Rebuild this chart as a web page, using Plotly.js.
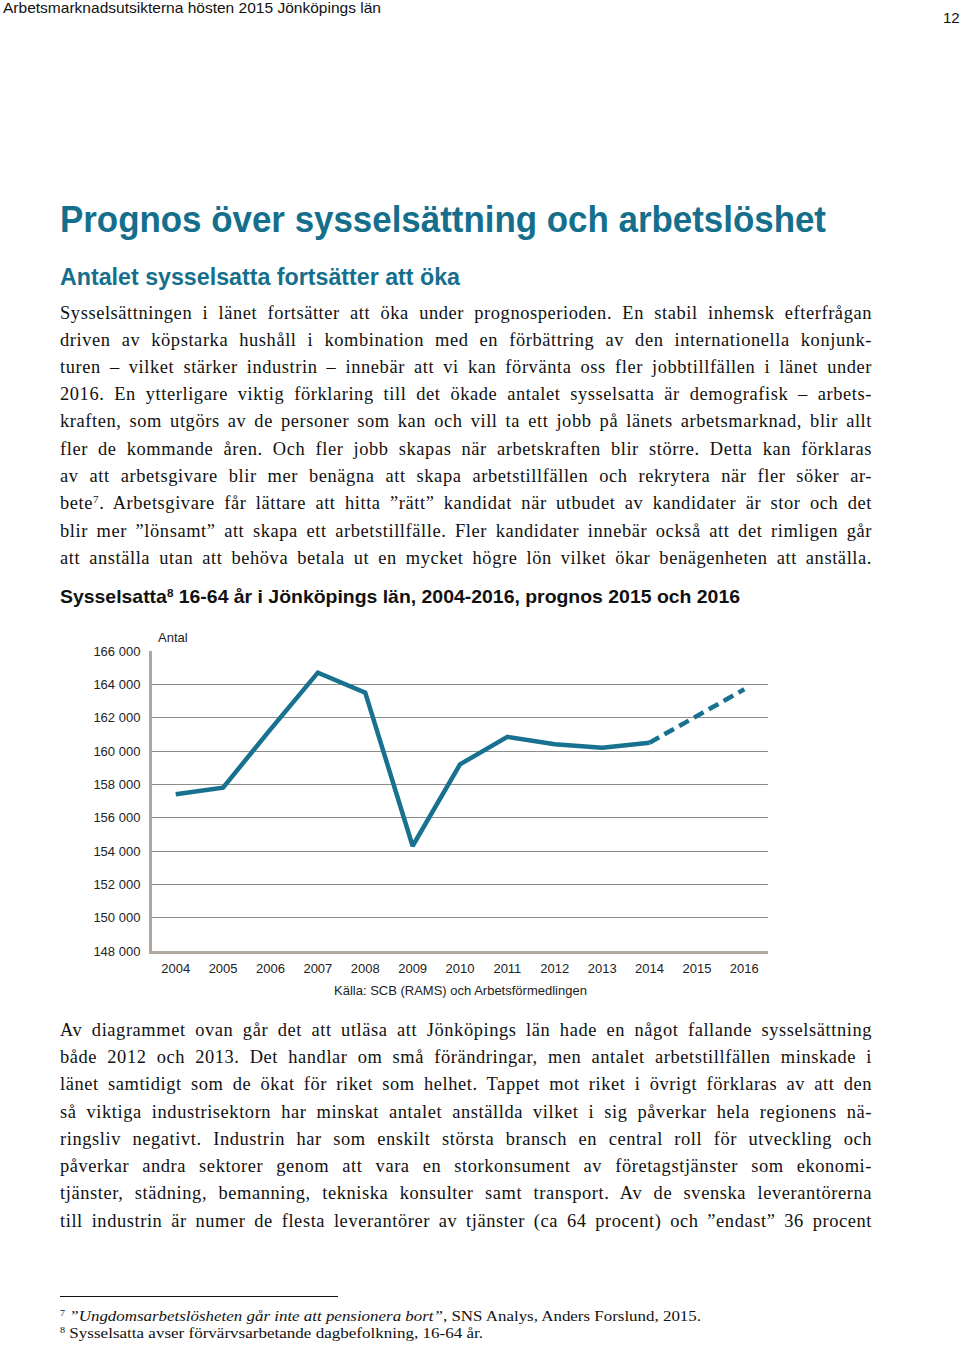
<!DOCTYPE html>
<html>
<head>
<meta charset="utf-8">
<script src="https://cdn.plot.ly/plotly-3.0.1.min.js"></script>
<style>
  html, body { margin: 0; padding: 0; background: #fff; }
  body { width: 960px; height: 1345px; position: relative; overflow: hidden; }
  .abs { position: absolute; white-space: nowrap; transform-origin: 0 0; }
  .sans { font-family: "Liberation Sans", Arial, Helvetica, sans-serif; }
  .serif { font-family: "Liberation Serif", "Times New Roman", serif; color: #111; }
  .teal { color: #156f8c; font-weight: bold; }
  sup { font-size: 60%; line-height: 0; vertical-align: 0; position: relative; top: -0.55em; }
  #chart { position: absolute; left: 0; top: 600px; width: 800px; height: 420px; }
</style>
</head>
<body>
<div class="abs sans" id="hdr" data-w="378" style="left:3px; top:0px; font-size:15px; line-height:16px; color:#111;">Arbetsmarknadsutsikterna hösten 2015 Jönköpings län</div>
<div class="abs sans" style="left:943px; top:10px; font-size:15px; line-height:16px; color:#111;">12</div>

<div class="abs sans teal" data-w="766" style="left:60px; top:200px; font-size:36px; line-height:40px;">Prognos över sysselsättning och arbetslöshet</div>
<div class="abs sans teal" data-w="400" style="left:60px; top:264px; font-size:23px; line-height:26px;">Antalet sysselsatta fortsätter att öka</div>

<div id="body1"></div>

<div class="abs sans" data-w="680" style="left:60px; top:585px; font-size:19px; line-height:24px; font-weight:bold; color:#111;">Sysselsatta<sup>8</sup> 16-64 år i Jönköpings län, 2004-2016, prognos 2015 och 2016</div>

<div id="chart"></div>

<div id="body2"></div>

<div style="position:absolute; left:60px; top:1296px; width:278px; height:1px; background:#111;"></div>
<div class="abs serif" data-w="641" style="left:60px; top:1307px; font-size:15px; line-height:18px;"><sup>7</sup> <i>”Ungdomsarbetslösheten går inte att pensionera bort”</i>, SNS Analys, Anders Forslund, 2015.</div>
<div class="abs serif" data-w="423" style="left:60px; top:1324px; font-size:15px; line-height:18px;"><sup>8</sup> Sysselsatta avser förvärvsarbetande dagbefolkning, 16-64 år.</div>

<script>
// ---------------- chart data ----------------
var years = ['2004','2005','2006','2007','2008','2009','2010','2011','2012','2013','2014','2015','2016'];
var sysselsatta = [157400, 157800, 161300, 164700, 163500, 154300, 159200, 160850, 160400, 160200, 160500];
var prognosYears = ['2014','2015','2016'];
var prognos = [160500, 162100, 163700];
var yTicks = [148000,150000,152000,154000,156000,158000,160000,162000,164000,166000];

// ---------------- body text ----------------
var para1 = [
  'Sysselsättningen i länet fortsätter att öka under prognosperioden. En stabil inhemsk efterfrågan',
  'driven av köpstarka hushåll i kombination med en förbättring av den internationella konjunk-',
  'turen – vilket stärker industrin – innebär att vi kan förvänta oss fler jobbtillfällen i länet under',
  '2016. En ytterligare viktig förklaring till det ökade antalet sysselsatta är demografisk – arbets-',
  'kraften, som utgörs av de personer som kan och vill ta ett jobb på länets arbetsmarknad, blir allt',
  'fler de kommande åren. Och fler jobb skapas när arbetskraften blir större. Detta kan förklaras',
  'av att arbetsgivare blir mer benägna att skapa arbetstillfällen och rekrytera när fler söker ar-',
  'bete<sup>7</sup>. Arbetsgivare får lättare att hitta ”rätt” kandidat när utbudet av kandidater är stor och det',
  'blir mer ”lönsamt” att skapa ett arbetstillfälle. Fler kandidater innebär också att det rimligen går',
  'att anställa utan att behöva betala ut en mycket högre lön vilket ökar benägenheten att anställa.'
];
var para1Y = [313, 340, 367, 394, 421, 449, 476, 503, 531, 558];
var para2 = [
  'Av diagrammet ovan går det att utläsa att Jönköpings län hade en något fallande sysselsättning',
  'både 2012 och 2013. Det handlar om små förändringar, men antalet arbetstillfällen minskade i',
  'länet samtidigt som de ökat för riket som helhet. Tappet mot riket i övrigt förklaras av att den',
  'så viktiga industrisektorn har minskat antalet anställda vilket i sig påverkar hela regionens nä-',
  'ringsliv negativt. Industrin har som enskilt största bransch en central roll för utveckling och',
  'påverkar andra sektorer genom att vara en storkonsument av företagstjänster som ekonomi-',
  'tjänster, städning, bemanning, tekniska konsulter samt transport. Av de svenska leverantörerna',
  'till industrin är numer de flesta leverantörer av tjänster (ca 64 procent) och ”endast” 36 procent'
];
var para2Y = [1030, 1057, 1084, 1112, 1139, 1166, 1193, 1221];

function buildLines(containerId, lines, ys) {
  var c = document.getElementById(containerId);
  lines.forEach(function (t, i) {
    var d = document.createElement('div');
    d.className = 'abs serif';
    d.style.left = '60px';
    d.style.top = (ys[i] - 13) + 'px';
    d.style.fontSize = '19px';
    d.style.lineHeight = '26px';
    d.style.letterSpacing = '0.6px';
    d.innerHTML = t;
    c.appendChild(d);
    var target = 812;
    var n = (d.textContent.match(/ /g) || []).length;
    var w = d.getBoundingClientRect().width;
    var s = 0.97;
    if (w * s > target - n * 1.2) s = (target - n * 1.2) / w;
    var ws = n ? (target / s - w) / n : 0;
    d.style.wordSpacing = ws + 'px';
    d.style.transform = 'scaleX(' + s + ')';
  });
}
buildLines('body1', para1, para1Y);
buildLines('body2', para2, para2Y);

// fit headings to measured widths
document.querySelectorAll('[data-w]').forEach(function (el) {
  var w = el.getBoundingClientRect().width;
  var target = parseFloat(el.getAttribute('data-w'));
  el.style.transform = 'scaleX(' + (target / w) + ')';
});

// ---------------- chart ----------------
var lineColor = '#17718f';
var traces = [
  { x: years.slice(0, sysselsatta.length), y: sysselsatta, type: 'scatter', mode: 'lines',
    line: { color: lineColor, width: 4.5 }, name: 'Sysselsatta', hoverinfo: 'x+y' },
  { x: prognosYears, y: prognos, type: 'scatter', mode: 'lines',
    line: { color: lineColor, width: 4.5, dash: '11px,6px' }, name: 'Prognos', hoverinfo: 'x+y' }
];
var axisFont = { family: '"Liberation Sans", Arial, sans-serif', size: 13, color: '#222' };
var layout = {
  width: 800, height: 420,
  margin: { l: 152, r: 32, t: 51, b: 69, pad: 0 },
  paper_bgcolor: 'rgba(0,0,0,0)', plot_bgcolor: 'rgba(0,0,0,0)',
  showlegend: false,
  separators: ', ',
  font: axisFont,
  xaxis: {
    type: 'category', categoryorder: 'array', categoryarray: years,
    range: [-0.5, years.length - 0.5],
    showline: true, linecolor: '#b0a89e', linewidth: 3,
    showgrid: false, zeroline: false,
    ticks: 'outside', ticklen: 3, tickcolor: 'rgba(0,0,0,0)',
    tickfont: axisFont, fixedrange: true
  },
  yaxis: {
    range: [148000, 166000],
    tickvals: yTicks, tickformat: ',d',
    showline: true, linecolor: '#b0a89e', linewidth: 3,
    showgrid: true, gridcolor: '#8c8c8c', gridwidth: 1,
    zeroline: false,
    ticks: 'outside', ticklen: 6, tickcolor: 'rgba(0,0,0,0)',
    tickfont: axisFont, fixedrange: true
  },
  annotations: [
    { text: 'Antal', xref: 'paper', yref: 'paper', x: 4 / 616, y: 1, yshift: 14,
      xanchor: 'left', yanchor: 'middle', showarrow: false, font: axisFont },
    { text: 'Källa: SCB (RAMS) och Arbetsförmedlingen', xref: 'paper', yref: 'paper',
      x: 0.5, y: 0, yshift: -39, xanchor: 'center', yanchor: 'middle', showarrow: false, font: axisFont }
  ]
};
Plotly.newPlot('chart', traces, layout, { displayModeBar: false, staticPlot: true });
</script>
</body>
</html>
